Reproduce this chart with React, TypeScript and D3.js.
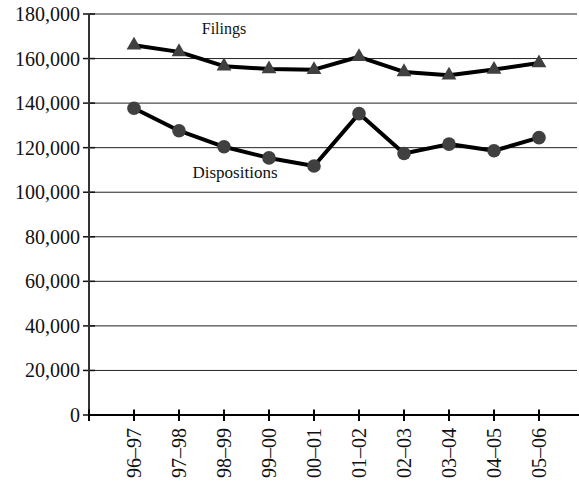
import React from "react";
import * as d3 from "d3";

const categories = ["96–97", "97–98", "98–99", "99–00", "00–01", "01–02", "02–03", "03–04", "04–05", "05–06"];
const filings = [166000, 163000, 156600, 155300, 155000, 160800, 154000, 152500, 155100, 158000];
const dispositions = [137700, 127600, 120400, 115400, 111800, 135300, 117400, 121600, 118600, 124500];
const yTicks = [0, 20000, 40000, 60000, 80000, 100000, 120000, 140000, 160000, 180000];
const seriesLabels = ["Filings", "Dispositions"];

const W = 579;
const H = 483;
const FONT = "'Liberation Serif', 'Times New Roman', serif";

export default function App() {
  const x0 = 89;
  const x = d3.scalePoint<string>().domain(categories).range([134, 539]);
  const y = d3.scaleLinear().domain([0, 180000]).range([415, 14]);
  const fmt = d3.format(",");
  const line = d3
    .line<number>()
    .x((_, i) => x(categories[i]) as number)
    .y((d) => y(d));
  const tri = d3.symbol().type(d3.symbolTriangle).size(95)();

  return (
    <svg
      width={W}
      height={H}
      style={{ position: "absolute", left: 0, top: 0, display: "block", background: "#fff" }}
      fontFamily={FONT}
    >
      {yTicks.map((t) => (
        <g key={t}>
          {t > 0 && <line x1={x0} x2={577} y1={y(t)} y2={y(t)} stroke="#222" strokeWidth={1} />}
          <line x1={x0 - 6} x2={x0 + 6} y1={y(t)} y2={y(t)} stroke="#111" strokeWidth={1.5} />
          <text x={80} y={y(t)} dy="0.35em" textAnchor="end" fontSize={20} fill="#111">
            {fmt(t)}
          </text>
        </g>
      ))}
      <line x1={x0} x2={x0} y1={y(180000)} y2={y(0)} stroke="#333" strokeWidth={2} />
      <line x1={x0} x2={579} y1={y(0)} y2={y(0)} stroke="#000" strokeWidth={2} />
      {[x0, ...categories.map((c) => x(c) as number)].map((px, i) => (
        <line key={i} x1={px} x2={px} y1={y(0) - 5.5} y2={y(0) + 6} stroke="#000" strokeWidth={2} />
      ))}
      {categories.map((c) => (
        <text
          key={c}
          transform={`translate(${x(c)},${428}) rotate(-90)`}
          textAnchor="end"
          dy="0.35em"
          fontSize={20}
          fill="#111"
        >
          {c}
        </text>
      ))}
      <path d={line(filings) || ""} fill="none" stroke="#000" strokeWidth={4} strokeLinejoin="round" />
      <path d={line(dispositions) || ""} fill="none" stroke="#000" strokeWidth={4} strokeLinejoin="round" />
      {filings.map((v, i) => (
        <path
          key={"f" + i}
          d={tri || ""}
          transform={`translate(${x(categories[i])},${y(v)})`}
          fill="#404040"
        />
      ))}
      {dispositions.map((v, i) => (
        <circle key={"d" + i} cx={x(categories[i])} cy={y(v)} r={6.8} fill="#404040" />
      ))}
      <text x={224} y={34} textAnchor="middle" fontSize={16} fill="#111">
        {seriesLabels[0]}
      </text>
      <text x={235} y={178} textAnchor="middle" fontSize={17} fill="#111">
        {seriesLabels[1]}
      </text>
    </svg>
  );
}
